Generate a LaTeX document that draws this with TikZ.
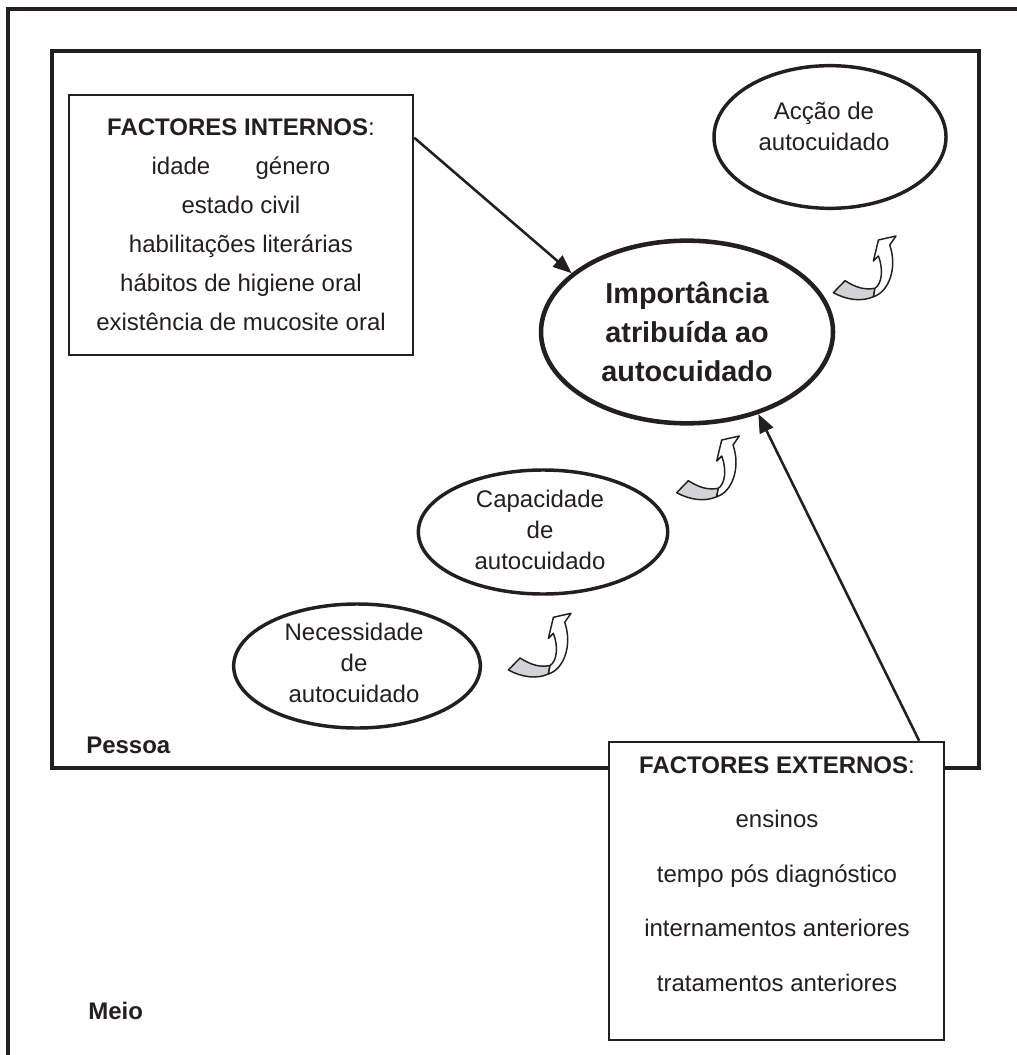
\documentclass[tikz,border=0pt]{standalone}
\usepackage{fontspec}
\setmainfont{Liberation Sans}
\usetikzlibrary{shapes.geometric,arrows.meta}
\definecolor{ink}{HTML}{231F20}
\definecolor{bandgray}{HTML}{D1D3D4}
\tikzset{
  curvarrow/.pic={
    \filldraw[draw=ink, fill=bandgray, line width=1.1pt, line join=round]
      (38.3,80.7) .. controls (50,88) and (58,90) .. (68.3,88.3)
      -- (66.7,96.7) .. controls (55,102) and (40,100) .. (26.7,92.7) -- cycle;
    \filldraw[draw=ink, fill=white, line width=1.1pt, line join=round]
      (66.7,96.7) .. controls (82,92) and (91,68) .. (83,45)
      -- (89.3,36) -- (71.7,40) -- (66.7,61) -- (71.7,56)
      .. controls (77,70) and (75,84) .. (68.3,88.3) -- cycle;
  }
}
\begin{document}
\begin{tikzpicture}[x=0.75pt,y=-0.75pt,
  bubble/.style={ellipse, draw=ink, line width=2.6pt, inner sep=0pt},
  bubbletext/.style={align=center, inner sep=0pt, font=\fontsize{18}{23.25}\selectfont, text=ink},
  factbox/.style={rectangle, draw=ink, line width=1.9pt, fill=white, inner sep=0pt},
  label/.style={font=\fontsize{18}{22}\selectfont\bfseries, text=ink, anchor=west, inner sep=0pt},
  link/.style={draw=ink, line width=1.9pt, -{Triangle[length=14pt,width=11pt]}}
]
\useasboundingbox (0,0) rectangle (1016,1055);
\fill[white] (0,0) rectangle (1016,1055);
% outer frame (Meio)
\draw[ink, line width=2.6pt] (1030,9) -- (8,9) -- (8,1070);
% inner frame (Pessoa)
\draw[ink, line width=3pt] (52,51) rectangle (979,768);

\node[label] (pessoa) at (86,745) {Pessoa};
\node[label] (meio) at (88,1011) {Meio};

% ellipses
\node[bubble, line width=3.4pt, minimum width=219pt, minimum height=137pt,
  align=center, text=ink, font=\fontsize{21.6}{29.25}\selectfont\bfseries] (imp) at (687,332)
  {Importância\\atribuída ao\\autocuidado};

\node[bubble, minimum width=174pt, minimum height=107pt] (accao) at (830,137) {};
\node[bubbletext] (accaotxt) at (824,126) {Acção de\\autocuidado};

\node[bubble, minimum width=187pt, minimum height=93pt] (cap) at (543,532) {};
\node[bubbletext] (captxt) at (540,530) {Capacidade\\de\\autocuidado};

\node[bubble, minimum width=185pt, minimum height=93pt] (nec) at (357,666) {};
\node[bubbletext] (nectxt) at (354,663) {Necessidade\\de\\autocuidado};

% factor boxes
\node[factbox, minimum width=258pt, minimum height=195pt, align=center,
  font=\fontsize{18}{29.25}\selectfont, text=ink] (int) at (241,225)
  {\textbf{FACTORES INTERNOS}:\\ idade\hspace{34pt}género\\ estado civil\\
   habilitações literárias\\ hábitos de higiene oral\\ existência de mucosite oral};
\node[factbox, minimum width=251pt, minimum height=223.5pt] (ext) at (776.5,891) {};
\node[align=center, font=\fontsize{18}{40.9}\selectfont, text=ink, inner sep=0pt] (exttxt) at (777,874)
  {\textbf{FACTORES EXTERNOS}:\\ ensinos\\ tempo pós diagnóstico\\
   internamentos anteriores\\ tratamentos anteriores};

% connectors
\coordinate (intout) at ([yshift=-33pt]int.north east);
\coordinate (extout) at ([xshift=-19.5pt]ext.north east);
\draw[link] (intout) -- (imp.153);
\draw[link] (extout) -- (imp.311);

% curved block arrows
\pic at (806.7,200) {curvarrow};
\pic at (650,400) {curvarrow};
\pic at (481.7,577.3) {curvarrow};
\end{tikzpicture}
\end{document}
